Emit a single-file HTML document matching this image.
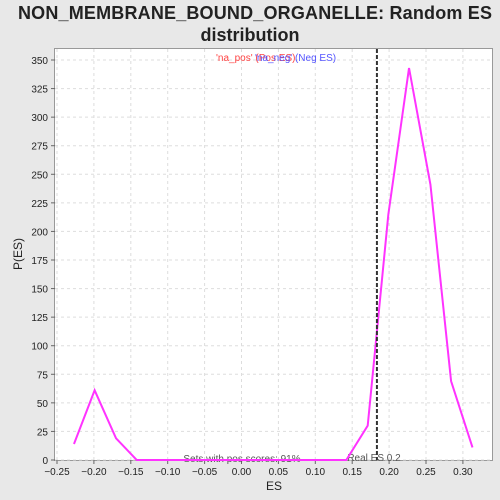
<!DOCTYPE html>
<html><head><style>
body{margin:0;background:#e8e8e8;font-family:"Liberation Sans","DejaVu Sans",sans-serif;overflow:hidden;}
svg{display:block;}
svg text{font-family:"Liberation Sans","DejaVu Sans",sans-serif;}
</style></head><body>
<svg width="500" height="500">
<rect x="0" y="0" width="500" height="500" fill="#e8e8e8"/>
<text x="255" y="19" font-size="18" font-weight="bold" text-anchor="middle" fill="#222" textLength="474">NON_MEMBRANE_BOUND_ORGANELLE: Random ES</text>
<text x="250" y="41" font-size="18" font-weight="bold" text-anchor="middle" fill="#222">distribution</text>
<rect x="54.5" y="48.5" width="438" height="412" fill="#fff" stroke="#999"/>
<g id="grid"></g><g id="axes"></g>
<text x="216" y="61" font-size="10" fill="#f44">'na_pos' (Pos ES)</text>
<text x="255" y="61" font-size="10" fill="#55f">'na_neg' (Neg ES)</text>
<text x="242" y="462" font-size="10" text-anchor="middle" fill="#555">Sets with pos scores: 91%</text>
<text x="374" y="461" font-size="10" text-anchor="middle" fill="#555">Real ES 0.2</text>
<g id="series"></g>
<text x="274" y="490" font-size="12" text-anchor="middle" fill="#222">ES</text>
<text x="22" y="254" font-size="12" text-anchor="middle" fill="#222" transform="rotate(-90 22 254)">P(ES)</text>
</svg>
<script>
const esValues=[-0.227,-0.199,-0.170,-0.142,-0.114,-0.085,-0.057,-0.028,0.0,0.028,0.057,0.085,0.114,0.142,0.171,0.199,0.227,0.256,0.284,0.313];
const density=[14,61,19,0,0,0,0,0,0,0,0,0,0,0,30,215,343,241,69,11];
const xTicks=[-0.25,-0.2,-0.15,-0.1,-0.05,0,0.05,0.1,0.15,0.2,0.25,0.3];
const yTicks=[0,25,50,75,100,125,150,175,200,225,250,275,300,325,350];
const realES=0.1835;
const X=v=>241.5+v*738, Y=v=>460-v*400/350;
const NS='http://www.w3.org/2000/svg';
function mk(t,a,p){const e=document.createElementNS(NS,t);for(const k in a)e.setAttribute(k,a[k]);p.appendChild(e);return e;}
const g=document.getElementById('grid'),ax=document.getElementById('axes'),s=document.getElementById('series');
xTicks.forEach(v=>{const x=X(v);
const l=mk('line',{x1:x,x2:x,y1:49,y2:460,stroke:'#ddd','stroke-dasharray':'3,3'},g);

mk('line',{x1:x,x2:x,y1:460,y2:464,stroke:'#666'},ax);
const t=mk('text',{x:x,y:475,'font-size':10,'text-anchor':'middle',fill:'#222'},ax);t.textContent=(v<0?'\u2212':'')+Math.abs(v).toFixed(2);
});
yTicks.forEach(v=>{const y=Y(v);
const l=mk('line',{x1:55,x2:492,y1:y,y2:y,stroke:'#ddd','stroke-dasharray':'3,3'},g);

mk('line',{x1:51,x2:55,y1:y,y2:y,stroke:'#666'},ax);
const t=mk('text',{x:48,y:y+4,'font-size':10,'text-anchor':'end',fill:'#222'},ax);t.textContent=v;
});
const line=mk('polyline',{points:esValues.map((v,i)=>X(v)+','+Y(density[i])).join(' '),fill:'none',stroke:'#f3f','stroke-width':2},s);

const r=mk('line',{x1:X(realES),x2:X(realES),y1:49,y2:460,stroke:'#333','stroke-width':2,'stroke-dasharray':'4,2'},s);

</script>
</body></html>
